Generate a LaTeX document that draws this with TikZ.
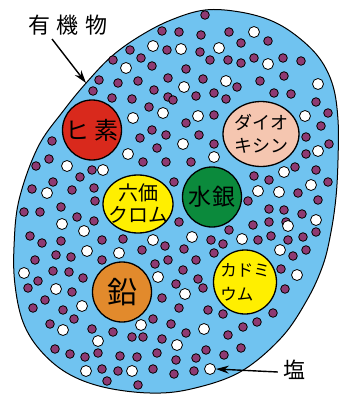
\documentclass[tikz,border=0pt]{standalone}
\usepackage{fontspec}
\newfontfamily\jp{Noto Sans CJK JP}
\usetikzlibrary{arrows.meta,shapes.geometric}
\definecolor{bodyblue}{HTML}{70C3F0}
\definecolor{dotpurple}{HTML}{8E3A72}
\definecolor{arsred}{HTML}{D9291C}
\definecolor{dioxpeach}{HTML}{F5C6B0}
\definecolor{cryellow}{HTML}{FFEF00}
\definecolor{hggreen}{HTML}{0B8A3C}
\definecolor{pborange}{HTML}{E28A2C}
\tikzset{
  metal/.style={draw=black, line width=1.3pt, ellipse, inner sep=0pt},
  mtext/.style={inner sep=0pt, align=center},
  pdot/.style={fill=dotpurple, draw=black, line width=0.8pt},
  wdot/.style={fill=white, draw=black, line width=0.8pt},
  label/.style={font=\jp\fontsize{22}{24}\selectfont, inner sep=0pt},
  pointer/.style={line width=1.4pt, -{Stealth[length=13pt,width=8pt]}}
}
\begin{document}
\begin{tikzpicture}[x=1pt,y=-1pt]
\useasboundingbox (0,0) rectangle (342,394);
% organic body
\draw[fill=bodyblue, line width=1pt] plot[smooth cycle, tension=0.6] coordinates {
(205,10) (240,12) (272,21) (298,37) (320,59) (333,86) (338,120) (338,160) (336,197) (331,232) (323,265) (307,300) (281,338) (240,372) (191,389) (150,393) (103,387) (67,373) (40,350) (23,322) (15,285) (14,247) (19,200) (38,147) (64,110) (87,82) (112,56) (140,36) (171,20)};
% purple dots
\foreach \x/\y in {162/31,130/50,141/58,152/66,167/50,168/78,113/60,99/80,93/91,118/83,138/81,154/90,112/98,132/99,149/107,168/97,152/130,166/135,140/138,157/148,52/141,49/159,36/166,80/177,92/170,143/162,166/162,53/182,32/189,72/190,94/188,
205/15,179/32,201/35,229/32,241/43,268/41,200/52,210/60,228/60,241/63,254/58,283/58,301/61,186/69,203/79,237/87,260/81,284/76,196/96,214/93,226/99,274/93,291/94,173/100,316/102,328/113,186/123,214/115,321/126,199/135,214/144,306/137,329/144,306/154,191/162,295/167,316/170,254/176,269/180,328/182,298/193,174/182,
95/201,24/212,40/212,61/207,77/217,94/221,30/236,42/243,61/241,102/240,123/239,142/250,165/246,35/260,56/255,71/257,102/260,155/264,168/260,53/271,69/272,83/278,28/288,38/281,45/300,72/292,33/308,63/310,74/319,162/298,153/319,50/324,92/329,113/332,132/337,143/337,162/339,55/349,70/354,85/357,98/353,120/356,137/357,157/353,102/369,118/371,153/369,107/381,138/385,
248/201,269/209,284/210,318/200,179/222,229/230,253/225,269/222,286/222,302/214,316/232,184/249,211/240,223/244,258/240,271/236,288/240,303/237,306/250,214/253,293/256,196/260,281/269,183/270,198/279,203/288,176/284,285/289,208/310,223/314,273/313,179/308,171/324,243/327,257/322,186/333,228/335,206/350,241/348,224/355,176/360,196/358,194/371,174/374}
  \draw[pdot] (\x,\y) circle[radius=4.3];
% white dots
\foreach \x/\y in {153/46,126/68,133/118,163/113,128/154,67/166,103/170,47/193,
254/32,181/49,219/48,268/64,226/81,184/87,318/84,198/116,305/116,183/144,318/151,214/157,284/172,311/185,258/191,279/192,
62/224,84/231,87/251,119/253,153/240,24/273,56/289,158/277,82/306,63/330,98/341,141/325,86/371,132/371,
192/237,242/239,288/226,316/220,280/250,297/275,185/294,204/329,177/345}
  \draw[wdot] (\x,\y) circle[radius=5.5];
\node[circle, wdot, minimum size=11pt, inner sep=0pt] (salt) at (210,369) {};
% pollutants
\node[metal, fill=arsred, minimum width=59pt, minimum height=60pt] (ars) at (92,130) {};
\node[mtext, font=\jp\fontsize{24}{26}\selectfont] (arst) at (ars.center) {ヒ\hspace{5pt}素};
\node[metal, fill=dioxpeach, minimum width=76pt, minimum height=65pt] (diox) at (261,134) {};
\node[mtext, font=\jp\fontsize{18}{23}\selectfont] (dioxt) at (diox.center) {ダイオ\\キシン};
\node[metal, fill=cryellow, minimum width=70pt, minimum height=58pt] (cr) at (138,204) {};
\node[mtext, font=\jp\fontsize{20}{22}\selectfont] (crt) at (cr.center) {六価\\クロム};
\node[metal, fill=hggreen, minimum width=59pt, minimum height=60pt] (hg) at (212,197) {};
\node[mtext, font=\jp\fontsize{23}{25}\selectfont] (hgt) at (hg.center) {水\hspace{2pt}銀};
\node[metal, fill=pborange, minimum width=59pt, minimum height=60pt] (pb) at (122,292) {};
\node[mtext, font=\jp\fontsize{30}{32}\selectfont] (pbt) at (pb.center) {鉛};
\node[metal, fill=cryellow, minimum width=63pt, minimum height=64pt] (cd) at (245,282) {};
\node[mtext, font=\jp\fontsize{16.5}{24}\selectfont, align=left] (cdt) at (cd.center) {カドミ\\ウム};
% labels
\node[label] (org) at (68,25) {有\hspace{7pt}機\hspace{7pt}物};
\coordinate (orgtip) at (86,83);
\draw[pointer] (52,39) -- (orgtip);
\node[label] (shio) at (294,370) {塩};
\draw[pointer] (shio.west) ++(-5,2) -- (salt.east);
\end{tikzpicture}
\end{document}
